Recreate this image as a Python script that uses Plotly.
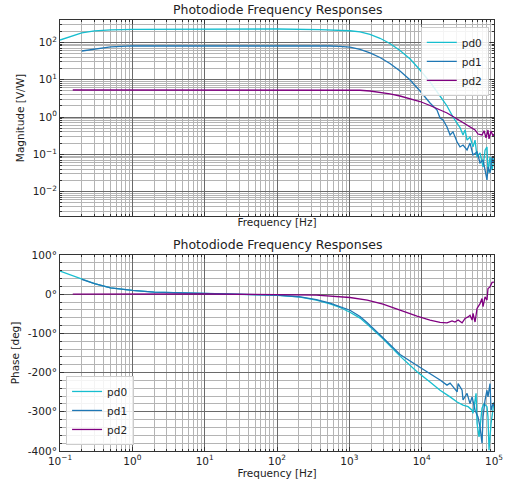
import plotly.graph_objects as go

# ---------------- data ----------------
freq_mag_pd0 = [0.1, 0.15, 0.2, 0.3, 0.5, 1, 10, 100, 394, 743, 1020, 1406, 1930, 2655, 3640,
                5020, 6930, 9490, 13040, 17950, 22400, 27100, 33900, 37300, 39800, 42400,
                46600, 51300, 54700, 58300, 64100, 70500, 75200, 80000, 82600, 88100, 94000, 100000]
mag_pd0 = [115, 147, 178, 201, 216, 223, 227, 227, 219, 213, 204, 189, 162, 128, 93,
           60, 35.7, 18.1, 8.65, 3.65, 1.97, 1.0, 0.52, 0.33, 0.45, 0.24,
           0.29, 0.158, 0.24, 0.085, 0.109, 0.046, 0.13, 0.158, 0.032, 0.085, 0.038, 0.08]

freq_mag_pd1 = [0.2, 0.3, 0.5, 1, 10, 100, 541, 743, 1020, 1406, 1930, 2655, 3640, 5020,
                6930, 9490, 13040, 16300, 17950, 19750, 22400, 24700, 27100, 30900, 33900,
                37300, 42400, 46600, 51300, 58300, 64100, 70500, 80000, 82600, 88100, 94000,
                96900, 100000]
mag_pd1 = [58.5, 66, 75, 80, 81, 81, 79.6, 78.2, 73.9, 64.2, 51.8, 39.2, 27.1, 17.1,
           9.8, 4.97, 2.37, 1.54, 0.94, 0.83, 0.54, 0.33, 0.40, 0.214, 0.158,
           0.178, 0.131, 0.20, 0.096, 0.116, 0.059, 0.071, 0.0206, 0.046, 0.032, 0.085,
           0.059, 0.071]

freq_mag_pd2 = [0.15, 1, 10, 100, 1020, 1406, 1930, 2655, 3640, 5020, 6930, 9490, 13040,
                16300, 22400, 27100, 37300, 46600, 54700, 60100, 68300, 72800, 77600, 82600,
                85300, 91000, 96900, 100000]
mag_pd2 = [5.28, 5.3, 5.35, 5.3, 5.25, 5.2, 4.97, 4.61, 4.18, 3.65, 3.13, 2.6, 2.03,
           1.69, 1.28, 1.03, 0.71, 0.54, 0.45, 0.35, 0.33, 0.43, 0.275, 0.45,
           0.26, 0.42, 0.31, 0.35]

freq_ph_pd0 = [0.1, 0.2, 0.3, 0.5, 1, 2, 10, 100, 200, 350, 541, 743, 1020, 1406, 1770, 2920,
               5020, 8630, 13040, 17950, 24700, 30900, 37300, 43800, 49800, 51300, 56500,
               58300, 62100, 68300, 72800, 80000, 82600, 85300, 91000, 96900, 100000]
ph_pd0 = [58.7, 38, 27, 16, 9.5, 5, 2, -3, -7, -15, -25, -34, -46, -61, -77, -114,
          -158, -198, -224, -245, -262, -275, -283, -287, -296, -304, -253,
          -330, -364, -291, -279, -287, -313, -398, -330, -287, -275]

freq_ph_pd1 = [0.2, 0.3, 0.5, 1, 2, 10, 100, 200, 350, 541, 743, 1020, 1406, 1770, 2920,
               5020, 8630, 13040, 17950, 22400, 24700, 27100, 30900, 31900, 36200, 37300,
               42400, 46600, 49800, 54700, 60100, 64100, 68300, 70500, 75200, 80000, 82600,
               88100, 91000, 96900, 100000]
ph_pd1 = [38, 27, 16, 9.5, 5, 2, -2.5, -6.5, -14, -23, -31, -41, -57, -73, -111,
          -154, -182, -202, -219, -232, -227, -236, -249, -228, -245, -270,
          -253, -279, -262, -296, -313, -339, -380, -313, -270, -245, -262,
          -228, -296, -279, -285]

freq_ph_pd2 = [0.15, 1, 10, 100, 350, 1020, 1770, 2920, 5020, 8630, 13040, 17950, 22400,
               26300, 28900, 31900, 36200, 39800, 43800, 46600, 49800, 51300, 54700, 58300,
               64100, 68300, 70500, 75200, 80000, 82600, 88100, 94000, 100000]
ph_pd2 = [0, 0.5, 0.5, -1, -2.5, -8.5, -15, -25.5, -41, -56, -66, -72, -73,
          -68, -71, -66, -73, -62, -58, -54, -66, -49, -71, -36.5,
          -24, -11, -32, -7, -15, 14.5, 18.6, 30, 31]

series_names = ["pd0", "pd1", "pd2"]
freq_ticks = [0.1, 1, 10, 100, 1000, 10000, 100000]
freq_ticktext = ["10<sup>−1</sup>", "10<sup>0</sup>", "10<sup>1</sup>", "10<sup>2</sup>",
                 "10<sup>3</sup>", "10<sup>4</sup>", "10<sup>5</sup>"]
mag_ticks = [0.01, 0.1, 1, 10, 100]
mag_ticktext = ["10<sup>−2</sup>", "10<sup>−1</sup>", "10<sup>0</sup>", "10<sup>1</sup>",
                "10<sup>2</sup>"]
phase_ticks = [100, 0, -100, -200, -300, -400]
phase_ticktext = ["100°", "0°", "-100°", "-200°", "-300°", "-400°"]

# ---------------- styling ----------------
colors = ["#17becf", "#1f77b4", "#800080"]
FONT = "DejaVu Sans"
MAJOR_GRID = "#6a6a6a"
MINOR_GRID = "#b4b4b4"
TXT = "#222222"

mag_sets = [(freq_mag_pd0, mag_pd0), (freq_mag_pd1, mag_pd1), (freq_mag_pd2, mag_pd2)]
ph_sets = [(freq_ph_pd0, ph_pd0), (freq_ph_pd1, ph_pd1), (freq_ph_pd2, ph_pd2)]

fig = go.Figure()
for name, c, (f, m) in zip(series_names, colors, mag_sets):
    fig.add_trace(go.Scatter(x=f, y=m, mode="lines", name=name,
                             line=dict(color=c, width=1.3),
                             xaxis="x", yaxis="y", legend="legend"))
for name, c, (f, p) in zip(series_names, colors, ph_sets):
    fig.add_trace(go.Scatter(x=f, y=p, mode="lines", name=name,
                             line=dict(color=c, width=1.3),
                             xaxis="x2", yaxis="y2", legend="legend2"))

frame = dict(showline=True, linecolor="#333333", linewidth=1, mirror="ticks",
             ticks="inside", ticklen=4, tickcolor="#333333",
             showgrid=True, gridcolor=MAJOR_GRID, gridwidth=0.8, zeroline=False,
             automargin=False, tickfont=dict(size=10.5, color=TXT, family=FONT))
log_minor = dict(dtick="D1", ticks="inside", ticklen=2, tickcolor="#333333",
                 showgrid=True, gridcolor=MINOR_GRID, gridwidth=0.7)

common_x = dict(frame, type="log", range=[-1, 5], tickvals=freq_ticks,
                ticktext=freq_ticktext, minor=log_minor)

fig.update_layout(
    width=505, height=483,
    margin=dict(l=60, r=11, t=20, b=32, autoexpand=False),
    paper_bgcolor="white", plot_bgcolor="white",
    font=dict(family=FONT, size=10.5, color=TXT),
    xaxis=dict(common_x, domain=[0, 1], anchor="y", showticklabels=False,
               title=dict(text="Frequency [Hz]", font=dict(size=10.5), standoff=2)),
    yaxis=dict(frame, type="log", range=[-2.651, 2.597], domain=[0.5452, 1], anchor="x",
               tickvals=mag_ticks, ticktext=mag_ticktext, minor=log_minor,
               title=dict(text="Magnitude [V/W]", font=dict(size=10.5), standoff=6)),
    xaxis2=dict(common_x, domain=[0, 1], anchor="y2", showticklabels=True,
                title=dict(text="Frequency [Hz]", font=dict(size=10.5), standoff=2)),
    yaxis2=dict(frame, range=[-400, 100], domain=[0, 0.4548], anchor="x2",
                tickvals=phase_ticks, ticktext=phase_ticktext,
                minor=dict(dtick=20, tick0=0, ticks="inside", ticklen=2, tickcolor="#333333",
                           showgrid=True, gridcolor=MINOR_GRID, gridwidth=0.7),
                title=dict(text="Phase [deg]", font=dict(size=10.5), standoff=6)),
    legend=dict(x=0.988, y=0.984, xanchor="right", yanchor="top",
                bgcolor="rgba(255,255,255,0.85)", bordercolor="#cccccc", borderwidth=1,
                font=dict(size=10.5, color=TXT), itemwidth=30, tracegroupgap=0),
    legend2=dict(x=0.014, y=0.014, xanchor="left", yanchor="bottom",
                 bgcolor="rgba(255,255,255,0.85)", bordercolor="#cccccc", borderwidth=1,
                 font=dict(size=10.5, color=TXT), itemwidth=30, tracegroupgap=0),
    showlegend=True,
)

for ydom in [1.0, 0.4548]:
    fig.add_annotation(text="Photodiode Frequency Responses", xref="paper", yref="paper",
                       x=0.5, y=ydom, xanchor="center", yanchor="bottom", yshift=1,
                       showarrow=False, font=dict(size=12.5, color=TXT, family=FONT))

fig.write_html("out.html", config={"displayModeBar": False},
               post_script="document.body.style.margin='0px';document.body.style.overflow='hidden';")
